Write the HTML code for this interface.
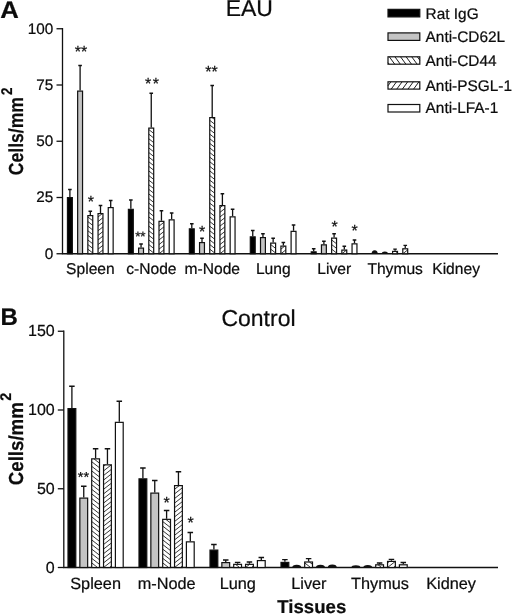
<!DOCTYPE html>
<html lang="en"><head><meta charset="utf-8"><title>EAU / Control</title>
<style>
html,body{margin:0;padding:0;background:#fff;}
svg{display:block;font-family:"Liberation Sans", Arial, Helvetica, sans-serif;}
text{fill:#0c0c0c;stroke:#0c0c0c;stroke-width:0.22px;text-rendering:geometricPrecision;}
</style></head><body>
<svg width="520" height="615" viewBox="0 0 520 615">
<defs>
</defs>
<rect width="520" height="615" fill="#fff"/>

<text transform="translate(0.3 17.5) scale(1.07 1)" font-size="24" font-weight="bold">A</text>
<text x="0.6" y="325" font-size="24" font-weight="bold">B</text>
<text x="249.3" y="16" font-size="23" text-anchor="middle">EAU</text>
<text x="258.5" y="326.2" font-size="23" text-anchor="middle">Control</text>
<rect x="388.00" y="9.35" width="31.80" height="7.55" fill="#000"/>
<rect x="388.00" y="9.35" width="31.80" height="7.55" fill="none" stroke="#111" stroke-width="1.2"/>
<text x="425.6" y="18.50" font-size="15.4">Rat IgG</text>
<rect x="388.00" y="32.90" width="31.80" height="7.50" fill="#c4c4c4"/>
<rect x="388.00" y="32.90" width="31.80" height="7.50" fill="none" stroke="#111" stroke-width="1.2"/>
<text x="425.6" y="42.10" font-size="15.4">Anti-CD62L</text>
<rect x="388.00" y="56.80" width="31.80" height="7.40" fill="#fff"/>
<path d="M417.34 56.80L419.80 60.18M411.74 56.80L417.12 64.20M406.14 56.80L411.52 64.20M400.54 56.80L405.92 64.20M394.94 56.80L400.32 64.20M389.34 56.80L394.72 64.20M388.00 62.66L389.12 64.20" stroke="#111" stroke-width="0.95" fill="none"/>
<rect x="388.00" y="56.80" width="31.80" height="7.40" fill="none" stroke="#111" stroke-width="1.2"/>
<text x="425.6" y="65.90" font-size="15.4">Anti-CD44</text>
<rect x="388.00" y="81.80" width="31.80" height="7.30" fill="#fff"/>
<path d="M388.00 85.79L390.90 81.80M391.19 89.10L396.50 81.80M396.79 89.10L402.10 81.80M402.39 89.10L407.70 81.80M407.99 89.10L413.30 81.80M413.59 89.10L418.90 81.80M419.19 89.10L419.80 88.26" stroke="#111" stroke-width="0.95" fill="none"/>
<rect x="388.00" y="81.80" width="31.80" height="7.30" fill="none" stroke="#111" stroke-width="1.2"/>
<text x="425.6" y="90.90" font-size="15.4">Anti-PSGL-1</text>
<rect x="388.00" y="104.50" width="31.80" height="7.50" fill="#fff"/>
<rect x="388.00" y="104.50" width="31.80" height="7.50" fill="none" stroke="#111" stroke-width="1.2"/>
<text x="425.6" y="113.20" font-size="15.4">Anti-LFA-1</text>
<path d="M62.50 28.10V253.75H498.00" stroke="#111" stroke-width="1.3" fill="none" stroke-linejoin="miter"/>
<path d="M56.50 28.75H62.50" stroke="#111" stroke-width="1.3"/>
<text x="53.20" y="33.55" font-size="15.3" text-anchor="end">100</text>
<path d="M56.50 85.00H62.50" stroke="#111" stroke-width="1.3"/>
<text x="53.20" y="89.80" font-size="15.3" text-anchor="end">75</text>
<path d="M56.50 141.25H62.50" stroke="#111" stroke-width="1.3"/>
<text x="53.20" y="146.05" font-size="15.3" text-anchor="end">50</text>
<path d="M56.50 197.50H62.50" stroke="#111" stroke-width="1.3"/>
<text x="53.20" y="202.30" font-size="15.3" text-anchor="end">25</text>
<path d="M56.50 253.75H62.50" stroke="#111" stroke-width="1.3"/>
<text x="53.20" y="258.55" font-size="15.3" text-anchor="end">0</text>
<path d="M63.80 330.60V567.50H498.00" stroke="#111" stroke-width="1.3" fill="none" stroke-linejoin="miter"/>
<path d="M57.80 331.25H63.80" stroke="#111" stroke-width="1.3"/>
<text x="54.70" y="336.27" font-size="16" text-anchor="end">150</text>
<path d="M57.80 410.00H63.80" stroke="#111" stroke-width="1.3"/>
<text x="54.70" y="415.02" font-size="16" text-anchor="end">100</text>
<path d="M57.80 488.75H63.80" stroke="#111" stroke-width="1.3"/>
<text x="54.70" y="493.77" font-size="16" text-anchor="end">50</text>
<path d="M57.80 567.50H63.80" stroke="#111" stroke-width="1.3"/>
<text x="54.70" y="572.52" font-size="16" text-anchor="end">0</text>
<path d="M69.90 197.00V189.50M68.10 189.50H71.70" stroke="#111" stroke-width="1.3" fill="none"/><rect x="67.45" y="197.60" width="4.90" height="56.15" fill="#000" stroke="none"/><rect x="67.45" y="197.60" width="4.90" height="56.15" fill="none" stroke="#111" stroke-width="1.2"/>
<path d="M80.10 90.50V65.50M78.30 65.50H81.90" stroke="#111" stroke-width="1.3" fill="none"/><rect x="77.65" y="91.10" width="4.90" height="162.65" fill="#c4c4c4" stroke="none"/><rect x="77.65" y="91.10" width="4.90" height="162.65" fill="none" stroke="#111" stroke-width="1.2"/>
<path d="M90.30 215.00V211.25M88.50 211.25H92.10" stroke="#111" stroke-width="1.3" fill="none"/><rect x="87.85" y="215.60" width="4.90" height="38.15" fill="#fff" stroke="none"/><path d="M92.01 215.60L92.75 216.18M87.85 216.95L92.75 220.78M87.85 221.55L92.75 225.38M87.85 226.15L92.75 229.98M87.85 230.75L92.75 234.58M87.85 235.35L92.75 239.18M87.85 239.95L92.75 243.78M87.85 244.55L92.75 248.38M87.85 249.15L92.75 252.98" stroke="#111" stroke-width="0.85" fill="none"/><rect x="87.85" y="215.60" width="4.90" height="38.15" fill="none" stroke="#111" stroke-width="1.2"/>
<path d="M100.50 213.00V205.50M98.70 205.50H102.30" stroke="#111" stroke-width="1.3" fill="none"/><rect x="98.05" y="213.60" width="4.90" height="40.15" fill="#fff" stroke="none"/><path d="M98.05 216.95L102.34 213.60M98.05 221.55L102.95 217.72M98.05 226.15L102.95 222.32M98.05 230.75L102.95 226.92M98.05 235.35L102.95 231.52M98.05 239.95L102.95 236.12M98.05 244.55L102.95 240.72M98.05 249.15L102.95 245.32M98.05 253.75L102.95 249.92" stroke="#111" stroke-width="0.85" fill="none"/><rect x="98.05" y="213.60" width="4.90" height="40.15" fill="none" stroke="#111" stroke-width="1.2"/>
<path d="M110.70 207.00V200.50M108.90 200.50H112.50" stroke="#111" stroke-width="1.3" fill="none"/><rect x="108.25" y="207.60" width="4.90" height="46.15" fill="#fff" stroke="none"/><rect x="108.25" y="207.60" width="4.90" height="46.15" fill="none" stroke="#111" stroke-width="1.2"/>
<path d="M130.85 208.75V200.00M129.05 200.00H132.65" stroke="#111" stroke-width="1.3" fill="none"/><rect x="128.40" y="209.35" width="4.90" height="44.40" fill="#000" stroke="none"/><rect x="128.40" y="209.35" width="4.90" height="44.40" fill="none" stroke="#111" stroke-width="1.2"/>
<path d="M141.05 247.50V244.00M139.25 244.00H142.85" stroke="#111" stroke-width="1.3" fill="none"/><rect x="138.60" y="248.10" width="4.90" height="5.65" fill="#c4c4c4" stroke="none"/><rect x="138.60" y="248.10" width="4.90" height="5.65" fill="none" stroke="#111" stroke-width="1.2"/>
<path d="M151.25 127.50V93.25M149.45 93.25H153.05" stroke="#111" stroke-width="1.3" fill="none"/><rect x="148.80" y="128.10" width="4.90" height="125.65" fill="#fff" stroke="none"/><path d="M152.83 128.10L153.70 128.78M148.80 129.55L153.70 133.38M148.80 134.15L153.70 137.98M148.80 138.75L153.70 142.58M148.80 143.35L153.70 147.18M148.80 147.95L153.70 151.78M148.80 152.55L153.70 156.38M148.80 157.15L153.70 160.98M148.80 161.75L153.70 165.58M148.80 166.35L153.70 170.18M148.80 170.95L153.70 174.78M148.80 175.55L153.70 179.38M148.80 180.15L153.70 183.98M148.80 184.75L153.70 188.58M148.80 189.35L153.70 193.18M148.80 193.95L153.70 197.78M148.80 198.55L153.70 202.38M148.80 203.15L153.70 206.98M148.80 207.75L153.70 211.58M148.80 212.35L153.70 216.18M148.80 216.95L153.70 220.78M148.80 221.55L153.70 225.38M148.80 226.15L153.70 229.98M148.80 230.75L153.70 234.58M148.80 235.35L153.70 239.18M148.80 239.95L153.70 243.78M148.80 244.55L153.70 248.38M148.80 249.15L153.70 252.98" stroke="#111" stroke-width="0.85" fill="none"/><rect x="148.80" y="128.10" width="4.90" height="125.65" fill="none" stroke="#111" stroke-width="1.2"/>
<path d="M161.45 220.75V210.75M159.65 210.75H163.25" stroke="#111" stroke-width="1.3" fill="none"/><rect x="159.00" y="221.35" width="4.90" height="32.40" fill="#fff" stroke="none"/><path d="M159.00 221.55L159.26 221.35M159.00 226.15L163.90 222.32M159.00 230.75L163.90 226.92M159.00 235.35L163.90 231.52M159.00 239.95L163.90 236.12M159.00 244.55L163.90 240.72M159.00 249.15L163.90 245.32M159.00 253.75L163.90 249.92" stroke="#111" stroke-width="0.85" fill="none"/><rect x="159.00" y="221.35" width="4.90" height="32.40" fill="none" stroke="#111" stroke-width="1.2"/>
<path d="M171.65 219.25V213.00M169.85 213.00H173.45" stroke="#111" stroke-width="1.3" fill="none"/><rect x="169.20" y="219.85" width="4.90" height="33.90" fill="#fff" stroke="none"/><rect x="169.20" y="219.85" width="4.90" height="33.90" fill="none" stroke="#111" stroke-width="1.2"/>
<path d="M191.80 228.25V223.75M190.00 223.75H193.60" stroke="#111" stroke-width="1.3" fill="none"/><rect x="189.35" y="228.85" width="4.90" height="24.90" fill="#000" stroke="none"/><rect x="189.35" y="228.85" width="4.90" height="24.90" fill="none" stroke="#111" stroke-width="1.2"/>
<path d="M202.00 242.00V238.25M200.20 238.25H203.80" stroke="#111" stroke-width="1.3" fill="none"/><rect x="199.55" y="242.60" width="4.90" height="11.15" fill="#c4c4c4" stroke="none"/><rect x="199.55" y="242.60" width="4.90" height="11.15" fill="none" stroke="#111" stroke-width="1.2"/>
<path d="M212.20 117.00V85.50M210.40 85.50H214.00" stroke="#111" stroke-width="1.3" fill="none"/><rect x="209.75" y="117.60" width="4.90" height="136.15" fill="#fff" stroke="none"/><path d="M212.12 117.60L214.65 119.58M209.75 120.35L214.65 124.18M209.75 124.95L214.65 128.78M209.75 129.55L214.65 133.38M209.75 134.15L214.65 137.98M209.75 138.75L214.65 142.58M209.75 143.35L214.65 147.18M209.75 147.95L214.65 151.78M209.75 152.55L214.65 156.38M209.75 157.15L214.65 160.98M209.75 161.75L214.65 165.58M209.75 166.35L214.65 170.18M209.75 170.95L214.65 174.78M209.75 175.55L214.65 179.38M209.75 180.15L214.65 183.98M209.75 184.75L214.65 188.58M209.75 189.35L214.65 193.18M209.75 193.95L214.65 197.78M209.75 198.55L214.65 202.38M209.75 203.15L214.65 206.98M209.75 207.75L214.65 211.58M209.75 212.35L214.65 216.18M209.75 216.95L214.65 220.78M209.75 221.55L214.65 225.38M209.75 226.15L214.65 229.98M209.75 230.75L214.65 234.58M209.75 235.35L214.65 239.18M209.75 239.95L214.65 243.78M209.75 244.55L214.65 248.38M209.75 249.15L214.65 252.98" stroke="#111" stroke-width="0.85" fill="none"/><rect x="209.75" y="117.60" width="4.90" height="136.15" fill="none" stroke="#111" stroke-width="1.2"/>
<path d="M222.40 205.00V193.75M220.60 193.75H224.20" stroke="#111" stroke-width="1.3" fill="none"/><rect x="219.95" y="205.60" width="4.90" height="48.15" fill="#fff" stroke="none"/><path d="M219.95 207.75L222.70 205.60M219.95 212.35L224.85 208.52M219.95 216.95L224.85 213.12M219.95 221.55L224.85 217.72M219.95 226.15L224.85 222.32M219.95 230.75L224.85 226.92M219.95 235.35L224.85 231.52M219.95 239.95L224.85 236.12M219.95 244.55L224.85 240.72M219.95 249.15L224.85 245.32M219.95 253.75L224.85 249.92" stroke="#111" stroke-width="0.85" fill="none"/><rect x="219.95" y="205.60" width="4.90" height="48.15" fill="none" stroke="#111" stroke-width="1.2"/>
<path d="M232.60 216.25V209.25M230.80 209.25H234.40" stroke="#111" stroke-width="1.3" fill="none"/><rect x="230.15" y="216.85" width="4.90" height="36.90" fill="#fff" stroke="none"/><rect x="230.15" y="216.85" width="4.90" height="36.90" fill="none" stroke="#111" stroke-width="1.2"/>
<path d="M252.75 236.25V230.50M250.95 230.50H254.55" stroke="#111" stroke-width="1.3" fill="none"/><rect x="250.30" y="236.85" width="4.90" height="16.90" fill="#000" stroke="none"/><rect x="250.30" y="236.85" width="4.90" height="16.90" fill="none" stroke="#111" stroke-width="1.2"/>
<path d="M262.95 237.00V233.75M261.15 233.75H264.75" stroke="#111" stroke-width="1.3" fill="none"/><rect x="260.50" y="237.60" width="4.90" height="16.15" fill="#c4c4c4" stroke="none"/><rect x="260.50" y="237.60" width="4.90" height="16.15" fill="none" stroke="#111" stroke-width="1.2"/>
<path d="M273.15 242.50V238.25M271.35 238.25H274.95" stroke="#111" stroke-width="1.3" fill="none"/><rect x="270.70" y="243.10" width="4.90" height="10.65" fill="#fff" stroke="none"/><path d="M274.73 243.10L275.60 243.78M270.70 244.55L275.60 248.38M270.70 249.15L275.60 252.98" stroke="#111" stroke-width="0.85" fill="none"/><rect x="270.70" y="243.10" width="4.90" height="10.65" fill="none" stroke="#111" stroke-width="1.2"/>
<path d="M283.35 245.50V242.50M281.55 242.50H285.15" stroke="#111" stroke-width="1.3" fill="none"/><rect x="280.90" y="246.10" width="4.90" height="7.65" fill="#fff" stroke="none"/><path d="M280.90 249.15L284.80 246.10M280.90 253.75L285.80 249.92" stroke="#111" stroke-width="0.85" fill="none"/><rect x="280.90" y="246.10" width="4.90" height="7.65" fill="none" stroke="#111" stroke-width="1.2"/>
<path d="M293.55 230.75V225.00M291.75 225.00H295.35" stroke="#111" stroke-width="1.3" fill="none"/><rect x="291.10" y="231.35" width="4.90" height="22.40" fill="#fff" stroke="none"/><rect x="291.10" y="231.35" width="4.90" height="22.40" fill="none" stroke="#111" stroke-width="1.2"/>
<path d="M313.70 251.25V248.75M311.90 248.75H315.50" stroke="#111" stroke-width="1.3" fill="none"/><rect x="311.25" y="251.85" width="4.90" height="1.90" fill="#000" stroke="none"/><rect x="311.25" y="251.85" width="4.90" height="1.90" fill="none" stroke="#111" stroke-width="1.2"/>
<path d="M323.90 244.25V241.25M322.10 241.25H325.70" stroke="#111" stroke-width="1.3" fill="none"/><rect x="321.45" y="244.85" width="4.90" height="8.90" fill="#c4c4c4" stroke="none"/><rect x="321.45" y="244.85" width="4.90" height="8.90" fill="none" stroke="#111" stroke-width="1.2"/>
<path d="M334.10 237.50V233.75M332.30 233.75H335.90" stroke="#111" stroke-width="1.3" fill="none"/><rect x="331.65" y="238.10" width="4.90" height="15.65" fill="#fff" stroke="none"/><path d="M335.17 238.10L336.55 239.18M331.65 239.95L336.55 243.78M331.65 244.55L336.55 248.38M331.65 249.15L336.55 252.98" stroke="#111" stroke-width="0.85" fill="none"/><rect x="331.65" y="238.10" width="4.90" height="15.65" fill="none" stroke="#111" stroke-width="1.2"/>
<path d="M344.30 249.50V246.25M342.50 246.25H346.10" stroke="#111" stroke-width="1.3" fill="none"/><rect x="341.85" y="250.10" width="4.90" height="3.65" fill="#fff" stroke="none"/><path d="M341.85 253.75L346.52 250.10" stroke="#111" stroke-width="0.85" fill="none"/><rect x="341.85" y="250.10" width="4.90" height="3.65" fill="none" stroke="#111" stroke-width="1.2"/>
<path d="M354.50 243.25V240.00M352.70 240.00H356.30" stroke="#111" stroke-width="1.3" fill="none"/><rect x="352.05" y="243.85" width="4.90" height="9.90" fill="#fff" stroke="none"/><rect x="352.05" y="243.85" width="4.90" height="9.90" fill="none" stroke="#111" stroke-width="1.2"/>
<path d="M371.60 253.75A3.05 3.55 0 0 1 377.70 253.75Z" fill="#111"/>
<path d="M381.80 253.75A3.05 2.35 0 0 1 387.90 253.75Z" fill="#111"/>
<path d="M395.05 250.80V249.10M393.25 249.10H396.85" stroke="#111" stroke-width="1.3" fill="none"/><rect x="392.60" y="251.40" width="4.90" height="2.35" fill="#fff" stroke="none"/><path d="M395.48 251.40L397.50 252.98" stroke="#111" stroke-width="0.85" fill="none"/><rect x="392.60" y="251.40" width="4.90" height="2.35" fill="none" stroke="#111" stroke-width="1.2"/>
<path d="M405.25 248.20V245.40M403.45 245.40H407.05" stroke="#111" stroke-width="1.3" fill="none"/><rect x="402.80" y="248.80" width="4.90" height="4.95" fill="#fff" stroke="none"/><path d="M402.80 249.15L403.25 248.80M402.80 253.75L407.70 249.92" stroke="#111" stroke-width="0.85" fill="none"/><rect x="402.80" y="248.80" width="4.90" height="4.95" fill="none" stroke="#111" stroke-width="1.2"/>
<path d="M71.90 408.00V386.25M69.15 386.25H74.65" stroke="#111" stroke-width="1.3" fill="none"/><rect x="68.00" y="408.60" width="7.80" height="158.90" fill="#000" stroke="none"/><rect x="68.00" y="408.60" width="7.80" height="158.90" fill="none" stroke="#111" stroke-width="1.2"/>
<path d="M83.75 497.50V486.25M81.00 486.25H86.50" stroke="#111" stroke-width="1.3" fill="none"/><rect x="79.85" y="498.10" width="7.80" height="69.40" fill="#c4c4c4" stroke="none"/><rect x="79.85" y="498.10" width="7.80" height="69.40" fill="none" stroke="#111" stroke-width="1.2"/>
<path d="M95.60 458.25V448.75M92.85 448.75H98.35" stroke="#111" stroke-width="1.3" fill="none"/><rect x="91.70" y="458.85" width="7.80" height="108.65" fill="#fff" stroke="none"/><path d="M93.94 458.85L99.50 463.19M91.70 461.70L99.50 467.79M91.70 466.30L99.50 472.39M91.70 470.90L99.50 476.99M91.70 475.50L99.50 481.59M91.70 480.10L99.50 486.19M91.70 484.70L99.50 490.79M91.70 489.30L99.50 495.39M91.70 493.90L99.50 499.99M91.70 498.50L99.50 504.59M91.70 503.10L99.50 509.19M91.70 507.70L99.50 513.79M91.70 512.30L99.50 518.39M91.70 516.90L99.50 522.99M91.70 521.50L99.50 527.59M91.70 526.10L99.50 532.19M91.70 530.70L99.50 536.79M91.70 535.30L99.50 541.39M91.70 539.90L99.50 545.99M91.70 544.50L99.50 550.59M91.70 549.10L99.50 555.19M91.70 553.70L99.50 559.79M91.70 558.30L99.50 564.39M91.70 562.90L97.59 567.50" stroke="#111" stroke-width="0.85" fill="none"/><rect x="91.70" y="458.85" width="7.80" height="108.65" fill="none" stroke="#111" stroke-width="1.2"/>
<path d="M107.45 464.25V448.75M104.70 448.75H110.20" stroke="#111" stroke-width="1.3" fill="none"/><rect x="103.55" y="464.85" width="7.80" height="102.65" fill="#fff" stroke="none"/><path d="M103.55 466.30L105.41 464.85M103.55 470.90L111.29 464.85M103.55 475.50L111.35 469.41M103.55 480.10L111.35 474.01M103.55 484.70L111.35 478.61M103.55 489.30L111.35 483.21M103.55 493.90L111.35 487.81M103.55 498.50L111.35 492.41M103.55 503.10L111.35 497.01M103.55 507.70L111.35 501.61M103.55 512.30L111.35 506.21M103.55 516.90L111.35 510.81M103.55 521.50L111.35 515.41M103.55 526.10L111.35 520.01M103.55 530.70L111.35 524.61M103.55 535.30L111.35 529.21M103.55 539.90L111.35 533.81M103.55 544.50L111.35 538.41M103.55 549.10L111.35 543.01M103.55 553.70L111.35 547.61M103.55 558.30L111.35 552.21M103.55 562.90L111.35 556.81M103.55 567.50L111.35 561.41M109.44 567.50L111.35 566.01" stroke="#111" stroke-width="0.85" fill="none"/><rect x="103.55" y="464.85" width="7.80" height="102.65" fill="none" stroke="#111" stroke-width="1.2"/>
<path d="M119.30 421.75V401.25M116.55 401.25H122.05" stroke="#111" stroke-width="1.3" fill="none"/><rect x="115.40" y="422.35" width="7.80" height="145.15" fill="#fff" stroke="none"/><rect x="115.40" y="422.35" width="7.80" height="145.15" fill="none" stroke="#111" stroke-width="1.2"/>
<path d="M142.90 478.25V468.00M140.15 468.00H145.65" stroke="#111" stroke-width="1.3" fill="none"/><rect x="139.00" y="478.85" width="7.80" height="88.65" fill="#000" stroke="none"/><rect x="139.00" y="478.85" width="7.80" height="88.65" fill="none" stroke="#111" stroke-width="1.2"/>
<path d="M154.75 492.50V480.50M152.00 480.50H157.50" stroke="#111" stroke-width="1.3" fill="none"/><rect x="150.85" y="493.10" width="7.80" height="74.40" fill="#c4c4c4" stroke="none"/><rect x="150.85" y="493.10" width="7.80" height="74.40" fill="none" stroke="#111" stroke-width="1.2"/>
<path d="M166.60 518.75V510.50M163.85 510.50H169.35" stroke="#111" stroke-width="1.3" fill="none"/><rect x="162.70" y="519.35" width="7.80" height="48.15" fill="#fff" stroke="none"/><path d="M165.84 519.35L170.50 522.99M162.70 521.50L170.50 527.59M162.70 526.10L170.50 532.19M162.70 530.70L170.50 536.79M162.70 535.30L170.50 541.39M162.70 539.90L170.50 545.99M162.70 544.50L170.50 550.59M162.70 549.10L170.50 555.19M162.70 553.70L170.50 559.79M162.70 558.30L170.50 564.39M162.70 562.90L168.59 567.50" stroke="#111" stroke-width="0.85" fill="none"/><rect x="162.70" y="519.35" width="7.80" height="48.15" fill="none" stroke="#111" stroke-width="1.2"/>
<path d="M178.45 485.00V471.75M175.70 471.75H181.20" stroke="#111" stroke-width="1.3" fill="none"/><rect x="174.55" y="485.60" width="7.80" height="81.90" fill="#fff" stroke="none"/><path d="M174.55 489.30L179.29 485.60M174.55 493.90L182.35 487.81M174.55 498.50L182.35 492.41M174.55 503.10L182.35 497.01M174.55 507.70L182.35 501.61M174.55 512.30L182.35 506.21M174.55 516.90L182.35 510.81M174.55 521.50L182.35 515.41M174.55 526.10L182.35 520.01M174.55 530.70L182.35 524.61M174.55 535.30L182.35 529.21M174.55 539.90L182.35 533.81M174.55 544.50L182.35 538.41M174.55 549.10L182.35 543.01M174.55 553.70L182.35 547.61M174.55 558.30L182.35 552.21M174.55 562.90L182.35 556.81M174.55 567.50L182.35 561.41M180.44 567.50L182.35 566.01" stroke="#111" stroke-width="0.85" fill="none"/><rect x="174.55" y="485.60" width="7.80" height="81.90" fill="none" stroke="#111" stroke-width="1.2"/>
<path d="M190.30 541.25V532.50M187.55 532.50H193.05" stroke="#111" stroke-width="1.3" fill="none"/><rect x="186.40" y="541.85" width="7.80" height="25.65" fill="#fff" stroke="none"/><rect x="186.40" y="541.85" width="7.80" height="25.65" fill="none" stroke="#111" stroke-width="1.2"/>
<path d="M213.90 549.50V544.50M211.15 544.50H216.65" stroke="#111" stroke-width="1.3" fill="none"/><rect x="210.00" y="550.10" width="7.80" height="17.40" fill="#000" stroke="none"/><rect x="210.00" y="550.10" width="7.80" height="17.40" fill="none" stroke="#111" stroke-width="1.2"/>
<path d="M225.75 562.00V560.00M223.00 560.00H228.50" stroke="#111" stroke-width="1.3" fill="none"/><rect x="221.85" y="562.60" width="7.80" height="4.90" fill="#c4c4c4" stroke="none"/><rect x="221.85" y="562.60" width="7.80" height="4.90" fill="none" stroke="#111" stroke-width="1.2"/>
<path d="M237.60 563.75V562.30M234.85 562.30H240.35" stroke="#111" stroke-width="1.3" fill="none"/><rect x="233.70" y="564.35" width="7.80" height="3.15" fill="#fff" stroke="none"/><path d="M241.44 564.35L241.50 564.39M235.56 564.35L239.59 567.50" stroke="#111" stroke-width="0.85" fill="none"/><rect x="233.70" y="564.35" width="7.80" height="3.15" fill="none" stroke="#111" stroke-width="1.2"/>
<path d="M249.45 563.75V562.00M246.70 562.00H252.20" stroke="#111" stroke-width="1.3" fill="none"/><rect x="245.55" y="564.35" width="7.80" height="3.15" fill="#fff" stroke="none"/><path d="M245.55 567.50L249.58 564.35M251.44 567.50L253.35 566.01" stroke="#111" stroke-width="0.85" fill="none"/><rect x="245.55" y="564.35" width="7.80" height="3.15" fill="none" stroke="#111" stroke-width="1.2"/>
<path d="M261.30 560.00V557.50M258.55 557.50H264.05" stroke="#111" stroke-width="1.3" fill="none"/><rect x="257.40" y="560.60" width="7.80" height="6.90" fill="#fff" stroke="none"/><rect x="257.40" y="560.60" width="7.80" height="6.90" fill="none" stroke="#111" stroke-width="1.2"/>
<path d="M284.90 561.80V559.70M282.15 559.70H287.65" stroke="#111" stroke-width="1.3" fill="none"/><rect x="281.00" y="562.40" width="7.80" height="5.10" fill="#000" stroke="none"/><rect x="281.00" y="562.40" width="7.80" height="5.10" fill="none" stroke="#111" stroke-width="1.2"/>
<path d="M292.25 567.50A4.50 2.80 0 0 1 301.25 567.50Z" fill="#111"/>
<path d="M308.60 561.40V558.70M305.85 558.70H311.35" stroke="#111" stroke-width="1.3" fill="none"/><rect x="304.70" y="562.00" width="7.80" height="5.50" fill="#fff" stroke="none"/><path d="M309.44 562.00L312.50 564.39M304.70 562.90L310.59 567.50" stroke="#111" stroke-width="0.85" fill="none"/><rect x="304.70" y="562.00" width="7.80" height="5.50" fill="none" stroke="#111" stroke-width="1.2"/>
<path d="M315.95 567.50A4.50 2.70 0 0 1 324.95 567.50Z" fill="#111"/>
<path d="M327.80 567.50A4.50 2.90 0 0 1 336.80 567.50Z" fill="#111"/>
<path d="M351.40 567.50A4.50 2.30 0 0 1 360.40 567.50Z" fill="#111"/>
<path d="M363.25 567.50A4.50 2.50 0 0 1 372.25 567.50Z" fill="#111"/>
<path d="M379.60 564.20V563.00M376.85 563.00H382.35" stroke="#111" stroke-width="1.3" fill="none"/><rect x="375.70" y="564.80" width="7.80" height="2.70" fill="#fff" stroke="none"/><path d="M378.13 564.80L381.59 567.50" stroke="#111" stroke-width="0.85" fill="none"/><rect x="375.70" y="564.80" width="7.80" height="2.70" fill="none" stroke="#111" stroke-width="1.2"/>
<path d="M391.45 560.80V559.30M388.70 559.30H394.20" stroke="#111" stroke-width="1.3" fill="none"/><rect x="387.55" y="561.40" width="7.80" height="6.10" fill="#fff" stroke="none"/><path d="M387.55 562.90L389.47 561.40M387.55 567.50L395.35 561.41M393.44 567.50L395.35 566.01" stroke="#111" stroke-width="0.85" fill="none"/><rect x="387.55" y="561.40" width="7.80" height="6.10" fill="none" stroke="#111" stroke-width="1.2"/>
<path d="M403.30 564.20V562.50M400.55 562.50H406.05" stroke="#111" stroke-width="1.3" fill="none"/><rect x="399.40" y="564.80" width="7.80" height="2.70" fill="#fff" stroke="none"/><rect x="399.40" y="564.80" width="7.80" height="2.70" fill="none" stroke="#111" stroke-width="1.2"/>
<text x="90.40" y="273.8" font-size="15.6" text-anchor="middle">Spleen</text>
<text x="151.35" y="273.8" font-size="15.6" text-anchor="middle">c-Node</text>
<text x="212.30" y="273.8" font-size="15.6" text-anchor="middle">m-Node</text>
<text x="273.25" y="273.8" font-size="15.6" text-anchor="middle">Lung</text>
<text x="334.20" y="273.8" font-size="15.6" text-anchor="middle">Liver</text>
<text x="395.15" y="273.8" font-size="15.6" text-anchor="middle">Thymus</text>
<text x="456.10" y="273.8" font-size="15.6" text-anchor="middle">Kidney</text>
<text x="95.60" y="588.8" font-size="16.3" text-anchor="middle">Spleen</text>
<text x="166.70" y="588.8" font-size="16.3" text-anchor="middle">m-Node</text>
<text x="237.80" y="588.8" font-size="16.3" text-anchor="middle">Lung</text>
<text x="308.90" y="588.8" font-size="16.3" text-anchor="middle">Liver</text>
<text x="380.00" y="588.8" font-size="16.3" text-anchor="middle">Thymus</text>
<text x="451.10" y="588.8" font-size="16.3" text-anchor="middle">Kidney</text>
<text x="311.8" y="612.9" font-size="18.6" font-weight="bold" text-anchor="middle">Tissues</text>
<g transform="translate(22.9 175.2) rotate(-90) scale(0.867 1)"><text x="0" y="0" font-size="20.3" font-weight="bold">Cells/mm<tspan dx="2.2" dy="-11.4" font-size="15.5">2</tspan></text></g>
<g transform="translate(23.2 485.2) rotate(-90) scale(0.92 1)"><text x="0" y="0" font-size="20.3" font-weight="bold">Cells/mm<tspan dx="1.5" dy="-11.8" font-size="15.5">2</tspan></text></g>
<text x="77.79" y="56.80" font-size="16" text-anchor="middle">*</text>
<text x="84.01" y="56.80" font-size="16" text-anchor="middle">*</text>
<text x="90.90" y="206.95" font-size="16" text-anchor="middle">*</text>
<text x="148.04" y="89.20" font-size="16" text-anchor="middle">*</text>
<text x="155.76" y="89.20" font-size="16" text-anchor="middle">*</text>
<text x="137.99" y="241.17" font-size="13.5" text-anchor="middle">*</text>
<text x="142.81" y="241.17" font-size="13.5" text-anchor="middle">*</text>
<text x="208.49" y="77.20" font-size="16" text-anchor="middle">*</text>
<text x="214.71" y="77.20" font-size="16" text-anchor="middle">*</text>
<text x="202.00" y="237.45" font-size="16" text-anchor="middle">*</text>
<text x="334.50" y="231.95" font-size="16" text-anchor="middle">*</text>
<text x="354.50" y="236.20" font-size="16" text-anchor="middle">*</text>
<text x="80.49" y="482.43" font-size="14.5" text-anchor="middle">*</text>
<text x="86.31" y="482.43" font-size="14.5" text-anchor="middle">*</text>
<text x="166.50" y="507.70" font-size="16" text-anchor="middle">*</text>
<text x="190.50" y="528.20" font-size="16" text-anchor="middle">*</text>
</svg>
</body></html>
